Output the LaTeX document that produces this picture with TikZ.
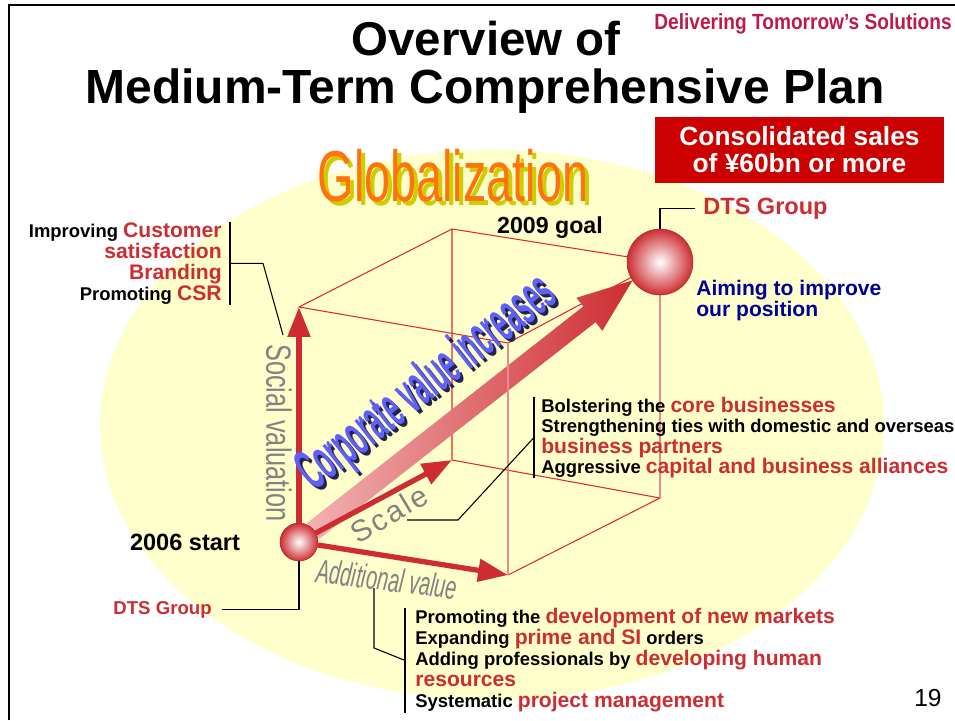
\documentclass[tikz,border=0pt]{standalone}
\usepackage{fontspec}
\setmainfont{Liberation Sans}
\usetikzlibrary{arrows.meta,positioning}
\definecolor{dtsred}{RGB}{205,45,50}
\definecolor{cubered}{RGB}{225,40,45}
\definecolor{boxred}{RGB}{204,0,0}
\definecolor{paleyel}{RGB}{255,255,204}
\definecolor{aimblue}{RGB}{0,0,150}
\definecolor{globorange}{RGB}{255,115,10}
\definecolor{globshadow}{RGB}{205,205,0}
\definecolor{corpblue}{RGB}{95,95,250}
\definecolor{corpdark}{RGB}{35,35,70}
\definecolor{axisgrey}{RGB}{130,130,130}
\definecolor{delivred}{RGB}{190,25,75}
\definecolor{arrowpink}{RGB}{242,178,178}
\newcommand{\redtxt}[1]{{\color{dtsred}\fontsize{12}{12}\selectfont #1}}

\begin{document}
\begin{tikzpicture}[x=0.02cm,y=-0.02cm,
      txt/.style={inner sep=0pt,align=left,font=\fontsize{10.5}{12}\selectfont\bfseries},
      cube/.style={draw=cubered,line width=0.6pt},
      ax/.style={draw=dtsred,line width=3pt,-{Triangle[length=17pt,width=12.5pt]}},
      lead/.style={draw=black,line width=0.6pt},
      ball/.style={circle,inner sep=0pt,inner color=white,outer color=dtsred,draw=dtsred!85!black,line width=0.3pt},
      axlbl/.style={inner sep=0pt,text=axisgrey},
      glob/.style={inner sep=0pt,anchor=base,font=\fontsize{41}{41}\selectfont},
      corp/.style={inner sep=0pt,rotate=38.1,font=\fontsize{33}{33}\selectfont\bfseries}]
  \useasboundingbox (0,0) rectangle (955,720);
  \draw[line width=1.2pt] (9,720) -- (9,5) -- (955,5);
  \fill[paleyel] (492,425) ellipse [x radius=392,y radius=275];

  % cube corners
  \coordinate (o) at (299,542);
  \coordinate (fbr) at (508,575);
  \coordinate (bbl) at (452,460);
  \coordinate (bbr) at (660,498);
  \coordinate (ftl) at (299,307);
  \coordinate (ftr) at (508,343);
  \coordinate (btl) at (452,229);
  \coordinate (btr) at (660,262);
  \draw[cube] (ftl) -- (btl) -- (btr) -- (ftr) -- cycle;
  \draw[cube] (btl) -- (bbl) -- (bbr) -- (fbr);
  \draw[cube,draw=cubered!55] (bbr) -- (btr);

  % corporate value arrow
  \begin{scope}[shift={(o)},rotate=38.1]
    \shade[left color=arrowpink,right color=dtsred] (18,-10) -- (369,-10) -- (369,-21) -- (424,0) -- (369,21) -- (369,10) -- (18,10) -- cycle;
  \end{scope}
  \draw[cube,draw=cubered!55] (ftr) -- (fbr);

  \node[ball,minimum size=0.76cm] (start) at (o) {};
  \node[ball,minimum size=1.32cm] (goal) at (btr) {};
  \draw[ax] (start) -- (ftl);
  \draw[ax] (start) -- (bbl);
  \draw[ax] (start) -- (fbr);

  % axis labels
  \node[corp,text=corpdark] at (431,387) {\scalebox{0.43}[1]{Corporate value increases}};
  \node[corp,text=corpblue] (corptxt) at (428,384) {\scalebox{0.43}[1]{Corporate value increases}};
  \node[axlbl,rotate=-90,font=\fontsize{20}{20}\selectfont] (social) at (279,433) {\scalebox{0.72}[1]{Social valuation}};
  \node[axlbl,rotate=31,font={\fontsize{17}{17}\selectfont\addfontfeature{LetterSpace=8}}] (scalelbl) at (389,514) {Scale};
  \node[axlbl,rotate=-7,font=\fontsize{19}{19}\selectfont\itshape] (addlbl) at (387,579) {\scalebox{0.6}[1]{Additional value}};

  % titles
  \node[inner sep=0pt,anchor=base,font=\fontsize{27}{27}\selectfont\bfseries] (title1) at (486,55) {Overview of};
  \node[inner sep=0pt,anchor=base,font=\fontsize{27.3}{27}\selectfont\bfseries] (title2) at (485,103) {Medium-Term Comprehensive Plan};
  \node[inner sep=0pt,anchor=base east,text=delivred,font=\fontsize{12.5}{13}\selectfont\bfseries] (motto) at (952,30) {\scalebox{0.87}[1]{Delivering Tomorrow's Solutions}};
  \node[fill=boxred,text=white,align=center,inner sep=0pt,minimum width=5.78cm,minimum height=1.32cm,font=\fontsize{15}{15.3}\selectfont\bfseries] (sales) at (799.5,150) {Consolidated sales\\of ¥60bn or more};
  \node[glob,text=globshadow] at (457,205) {\scalebox{0.65}[1]{Globalization}};
  \node[glob,text=globorange] (glob) at (453,201) {\scalebox{0.65}[1]{Globalization}};

  % start and goal
  \node[inner sep=0pt,anchor=base,font=\fontsize{13.4}{14}\selectfont\bfseries] (startlbl) at (185,550) {2006 start};
  \node[inner sep=0pt,anchor=base,font=\fontsize{13.2}{14}\selectfont\bfseries] (goallbl) at (550,233) {2009 goal};
  \node[inner sep=0pt,anchor=base east,text=dtsred,font=\fontsize{10.6}{12}\selectfont\bfseries] (dtsstart) at (212,614) {DTS Group};
  \node[inner sep=0pt,anchor=base west,text=dtsred,font=\fontsize{13.4}{14}\selectfont\bfseries] (dtsgoal) at (703,214) {DTS Group};
  \draw[lead] ([xshift=0.2cm]dtsstart.east) -| (start);
  \draw[lead] ([xshift=-0.16cm]dtsgoal.west) -| (goal);
  \node[inner sep=0pt,anchor=north west,align=left,text=aimblue,font=\fontsize{12}{12}\selectfont\bfseries] (aim) at (696,280) {Aiming to improve\\our position};

  % measures on each axis
  \node[txt,anchor=north east,align=right] (socialtxt) at (222,222) {Improving \redtxt{Customer}\\\redtxt{satisfaction}\\\redtxt{Branding}\\Promoting \redtxt{CSR}};
  \coordinate (socialtail) at (283,335);
  \draw[lead] ([xshift=0.16cm]socialtxt.north east) -- ([xshift=0.16cm]socialtxt.south east);
  \draw[lead] ([xshift=0.16cm]socialtxt.east) -- ++(33,0) -- (socialtail);

  \node[txt,anchor=north west,font=\fontsize{10.5}{11.5}\selectfont\bfseries] (scaletxt) at (541,397) {Bolstering the \redtxt{core businesses}\\Strengthening ties with domestic and overseas\\\redtxt{business partners}\\Aggressive \redtxt{capital and business alliances}};
  \coordinate (scaletail) at (407,520);
  \draw[lead] ([xshift=-0.14cm]scaletxt.north west) -- ([xshift=-0.14cm]scaletxt.south west);
  \draw[lead] (scaletail) -- ++(51,0) -- ([xshift=-0.14cm]scaletxt.west);

  \node[txt,anchor=north west] (addtxt) at (415,608) {Promoting the \redtxt{development of new markets}\\Expanding \redtxt{prime and SI} orders\\Adding professionals by \redtxt{developing human}\\\redtxt{resources}\\Systematic \redtxt{project management}};
  \coordinate (addtail) at (374,588);
  \draw[lead] ([xshift=-0.2cm]addtxt.north west) -- ([xshift=-0.2cm]addtxt.south west);
  \draw[lead] (addtail) -- ++(0,60) -- ([xshift=-0.2cm]addtxt.west);

  \node[inner sep=0pt,anchor=base east,font=\fontsize{14}{14}\selectfont] (page) at (942,706) {19};
\end{tikzpicture}
\end{document}
